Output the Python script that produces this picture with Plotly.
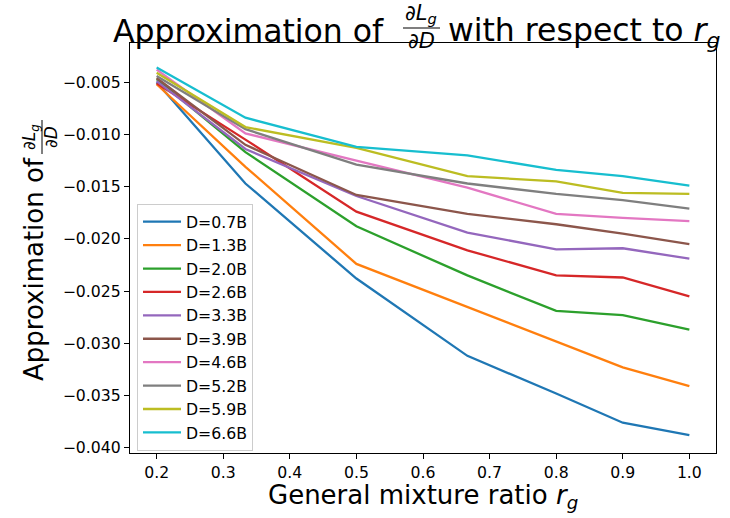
import plotly.graph_objects as go

ratios = [0.2, 1/3, 0.5, 2/3, 0.8, 0.9, 1.0]
labels = ["D=0.7B", "D=1.3B", "D=2.0B", "D=2.6B", "D=3.3B",
          "D=3.9B", "D=4.6B", "D=5.2B", "D=5.9B", "D=6.6B"]
d_07 = [-0.0050, -0.0147, -0.0238, -0.0312, -0.0348, -0.0376, -0.0388]
d_13 = [-0.0052, -0.0131, -0.0224, -0.0265, -0.0298, -0.0323, -0.0341]
d_20 = [-0.0047, -0.0117, -0.0188, -0.0235, -0.0269, -0.0273, -0.0287]
d_26 = [-0.0051, -0.0105, -0.0174, -0.0211, -0.0235, -0.0237, -0.0255]
d_33 = [-0.0049, -0.0114, -0.0159, -0.0194, -0.0210, -0.0209, -0.0219]
d_39 = [-0.0046, -0.0110, -0.0158, -0.0176, -0.0186, -0.0195, -0.0205]
d_46 = [-0.0038, -0.0099, -0.0125, -0.0151, -0.0176, -0.0180, -0.0183]
d_52 = [-0.0044, -0.0095, -0.0129, -0.0147, -0.0157, -0.0163, -0.0171]
d_59 = [-0.0041, -0.0093, -0.0113, -0.0140, -0.0145, -0.0156, -0.0157]
d_66 = [-0.0036, -0.0084, -0.0112, -0.0120, -0.0134, -0.0140, -0.0149]
series = [d_07, d_13, d_20, d_26, d_33, d_39, d_46, d_52, d_59, d_66]
colors = ["#1f77b4", "#ff7f0e", "#2ca02c", "#d62728", "#9467bd",
          "#8c564b", "#e377c2", "#7f7f7f", "#bcbd22", "#17becf"]
xticks = [0.2, 0.3, 0.4, 0.5, 0.6, 0.7, 0.8, 0.9, 1.0]
yticks = [-0.040, -0.035, -0.030, -0.025, -0.020, -0.015, -0.010, -0.005]

W, H = 730, 518
L, R, T, B = 130, 14, 43, 65
PW, PH = W - L - R, H - T - B
FONT = "DejaVu Sans"

def px(x):
    return (x - L) / PW

def py(y):
    return (H - B - y) / PH

fig = go.Figure()
for name, vals, c in zip(labels, series, colors):
    fig.add_trace(go.Scatter(x=ratios, y=vals, mode="lines", name=name,
                             line=dict(color=c, width=2.3)))

axis_common = dict(showgrid=False, zeroline=False, showline=True, mirror=True,
                   linecolor="black", linewidth=1.2, ticks="outside",
                   ticklen=5, tickwidth=1.2, tickcolor="black",
                   tickfont=dict(family=FONT, size=15.7, color="black"))
fig.update_xaxes(range=[0.16, 1.04], tickvals=xticks,
                 ticktext=[f"{t:.1f}" for t in xticks], **axis_common)
fig.update_yaxes(range=[-0.0405, -0.00125], tickvals=yticks, tickformat=".3f",
                 **axis_common)

ann = []
# title
ann.append(dict(text="Approximation of", x=px(386), y=py(31), xanchor="right",
                yanchor="middle", font=dict(size=31.5)))
ann.append(dict(text="∂<i>L</i><sub><i>g</i></sub>", x=px(421), y=py(14),
                xanchor="center", yanchor="middle", font=dict(size=21)))
ann.append(dict(text="∂<i>D</i>", x=px(421), y=py(41), xanchor="center",
                yanchor="middle", font=dict(size=21)))
ann.append(dict(text="with respect to <i>r</i><sub><i>g</i></sub>", x=px(446),
                y=py(33), xanchor="left", yanchor="middle", font=dict(size=31.5)))
# x label
ann.append(dict(text="General mixture ratio <i>r</i><sub><i>g</i></sub>",
                x=px(423), y=py(496), xanchor="center", yanchor="middle",
                font=dict(size=26)))
# y label
ann.append(dict(text="Approximation of", x=px(34), y=py(269), textangle=-90,
                xanchor="center", yanchor="middle", font=dict(size=26)))
ann.append(dict(text="∂<i>L</i><sub><i>g</i></sub>", x=px(30), y=py(137),
                textangle=-90, xanchor="center", yanchor="middle",
                font=dict(size=17)))
ann.append(dict(text="∂<i>D</i>", x=px(51), y=py(137), textangle=-90,
                xanchor="center", yanchor="middle", font=dict(size=17)))
for a in ann:
    a.update(xref="paper", yref="paper", showarrow=False)
    a["font"].update(family=FONT, color="black")

shapes = [
    dict(type="line", xref="paper", yref="paper", x0=px(403), x1=px(440),
         y0=py(28), y1=py(28), line=dict(color="black", width=1.2)),
    dict(type="line", xref="paper", yref="paper", x0=px(42), x1=px(42),
         y0=py(120), y1=py(154), line=dict(color="black", width=1.0)),
]

fig.update_layout(
    width=W, height=H, margin=dict(l=L, r=R, t=T, b=B),
    paper_bgcolor="white", plot_bgcolor="white",
    annotations=ann, shapes=shapes,
    font=dict(family=FONT, color="black"),
    legend=dict(x=px(137), y=py(204), xanchor="left", yanchor="top",
                bgcolor="rgba(255,255,255,0.8)", bordercolor="#cccccc",
                borderwidth=1, font=dict(family=FONT, size=15.7, color="black"),
                itemwidth=38),
)
fig.write_html("out.html", config={"displayModeBar": False},
               post_script="document.body.style.margin='0';"
                           "document.body.style.overflow='hidden';")
